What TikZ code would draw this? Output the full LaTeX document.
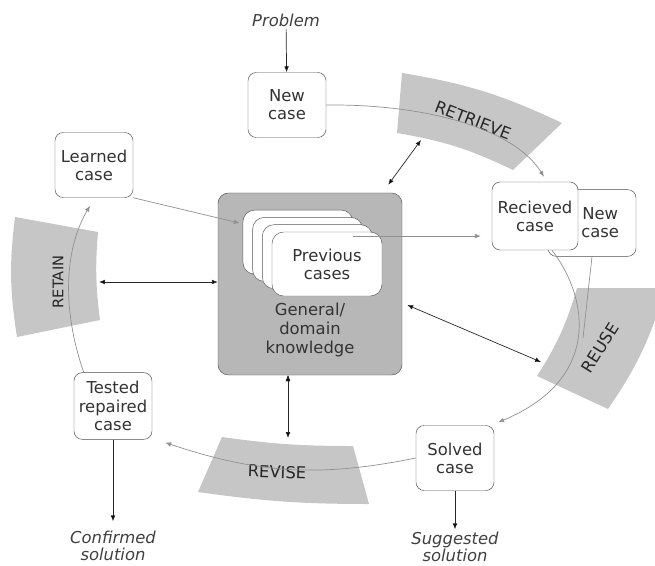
\documentclass[tikz,border=0pt]{standalone}
\usepackage{fontspec}
\setmainfont{DejaVu Sans}
\usepackage{tikz}
\usetikzlibrary{arrows.meta}
\usetikzlibrary{calc}
\definecolor{kbgray}{RGB}{183,183,183}
\definecolor{bandgray}{RGB}{198,198,198}
\definecolor{linegray}{RGB}{145,145,145}
\definecolor{textgray}{RGB}{51,51,51}
\tikzstyle{casebox}=[draw=black!70,fill=white,rounded corners=7pt,align=center,minimum width=2.34cm,minimum height=1.95cm,inner sep=1pt,text=textgray,font=\fontsize{14}{15.5}\selectfont]
\tikzstyle{layer}=[draw=black!65,fill=white,rounded corners=10pt,minimum width=3.3cm,minimum height=1.92cm]
\tikzstyle{band}=[fill=bandgray]
\tikzstyle{phase}=[font=\fontsize{14}{16}\selectfont,text=black!85]
\tikzstyle{io}=[font=\itshape\fontsize{14}{15}\selectfont,text=black!75,align=center,inner sep=2pt]

\begin{document}
\begin{tikzpicture}[x=0.03cm,y=-0.03cm]
	\useasboundingbox (0,0) rectangle (655,565);

	\tikzstyle{flow}=[draw=linegray,line width=0.6pt,-{Latex[length=5pt,width=4pt]}];
	\tikzstyle{link}=[draw=black!85,line width=0.6pt,{Latex[length=5pt,width=4pt]}-{Latex[length=5pt,width=4pt]}];
	\tikzstyle{feed}=[draw=black!85,line width=0.6pt,-{Latex[length=5pt,width=4pt]}];

	% the four phases
	\fill[band] (402,73) to[bend left=8] (562,123) -- (513,170) to[bend right=8] (397,133) -- cycle;
	\fill[band] (577,288) -- (662,288) -- (662,300) to[bend left=8] (608,409) -- (537,376) to[bend right=8] (577,288) -- cycle;
	\fill[band] (222,437) to[bend right=4] (353,446) -- (369,504) to[bend left=4] (198,492) -- cycle;
	\fill[band] (15,217) -- (98,232) to[bend right=6] (100,320) -- (17,337) to[bend left=8] (15,217) -- cycle;
	\node (lblretrieve) [phase,rotate=-21] at (473,120) {RETRIEVE};
	\node (lblreuse) [phase,rotate=58] at (600,348) {REUSE};
	\node (lblrevise) [phase,rotate=-2] at (277,472) {REVISE};
	\node (lblretain) [phase,rotate=90,font=\fontsize{12.5}{14}\selectfont] at (58,282) {RETAIN};

	% knowledge base
	\node (kb) [draw=black!70,fill=kbgray,rounded corners=9pt,minimum width=5.52cm,minimum height=5.46cm] at (310,284) {};
	\foreach \k in {3,2,1}
		\node (prev\k) [layer] at ({327-9.7*\k},{264-7.3*\k}) {};
	\node (prev0) [layer,align=center,text=textgray,font=\fontsize{14}{15.5}\selectfont] at (327,264) {Previous\\cases};
	\node (kblabel) [align=center,text=textgray,font=\fontsize{14}{16}\selectfont] at (310,330) {General/\\domain\\knowledge};

	% cases
	\node (problem) [io] at (286,20) {Problem};
	\node (newcase) [casebox] at (287,105) {New\\case};
	\node (learned) [casebox] at (94,165) {Learned\\case};
	\node (newcase2) [casebox,minimum width=2.64cm,minimum height=2cm] at (592,223) {\hspace*{14pt}New\\\hspace*{14pt}case};
	\node (retrieved) [casebox,minimum width=2.58cm,minimum height=2.04cm] at (535,216) {Recieved\\case};
	\node (solved) [casebox] at (455,458) {Solved\\case};
	\node (tested) [casebox,minimum height=2cm] at (113,406) {Tested\\repaired\\case};
	\node (confirmed) [io] at (113,546) {Confirmed\\solution};
	\node (suggested) [io] at (455,547) {Suggested\\solution};

	% the cycle
	\draw[flow] (newcase.east) .. controls (430,104) and (515,130) .. ($(retrieved.north)+(9,-5)$);
	\draw[flow] ($(retrieved.south)+(17,0)$) .. controls (590,300) and (600,380) .. ($(solved.north east)+(4,-3)$);
	\coordinate (merge) at (583,338);
	\draw[draw=linegray,line width=0.6pt] (newcase2.south) -- (merge);
	\draw[flow] (solved.west) to[bend left=15] ($(tested.south east)+(13,3)$);
	\draw[flow] ($(tested.north west)+(10,0)$) .. controls (62,310) and (64,250) .. ($(learned.south)+(-4,8)$);
	\draw[flow] (learned.south east) -- ($(prev3.west)+(-3,-19)$);
	\coordinate (caseout) at ($(prev3.east)+(0,-6)$);
	\draw[flow] (caseout) -- ($(retrieved.west |- caseout)+(-11,0)$);

	% links to the knowledge
	\coordinate (retrieveIn) at (421,140);
	\coordinate (retainIn) at (99,282);
	\coordinate (reuseIn) at (541,362);
	\coordinate (reviseIn) at (288,438);
	\path[link]
		($(kb.north east)+(-14,-8)$) edge (retrieveIn)
		(retainIn) edge (retainIn -| kb.west)
		($(kb.east)+(5,21)$) edge (reuseIn)
		(reviseIn |- kb.south) edge (reviseIn);

	% in and out
	\path[feed]
		(problem) edge (newcase)
		(tested) edge[shorten >=6pt] (confirmed)
		(solved) edge (suggested);
\end{tikzpicture}
\end{document}
